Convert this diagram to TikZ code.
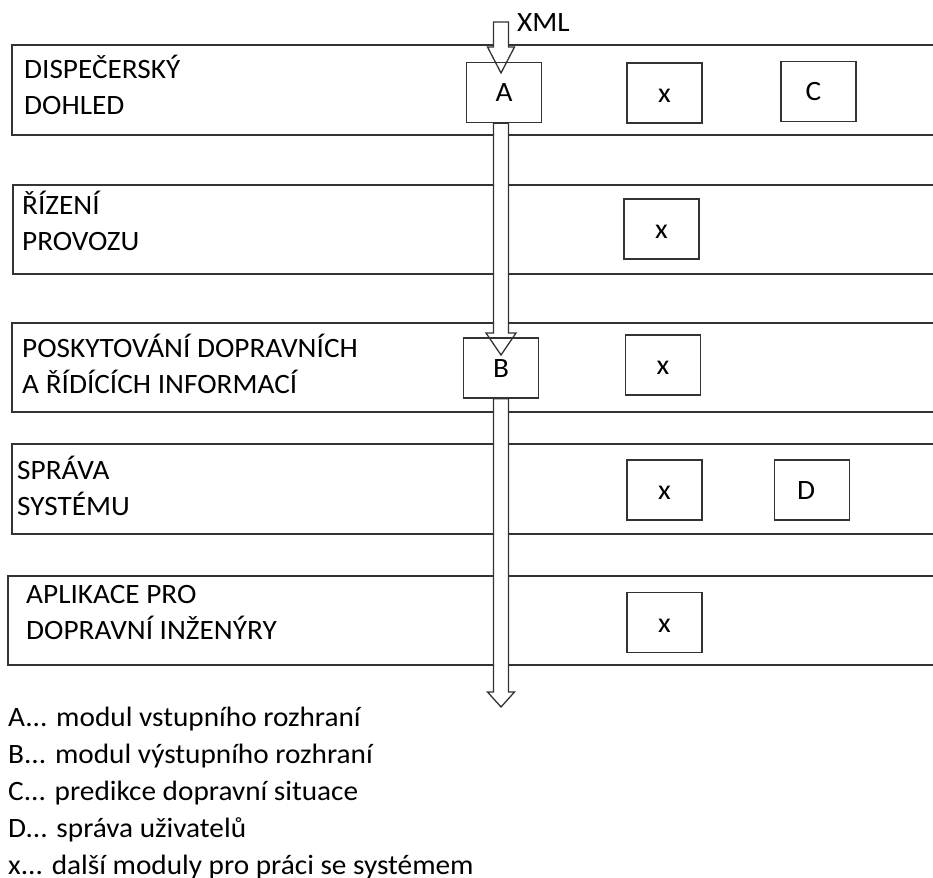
\documentclass[tikz,border=0pt]{standalone}
\usepackage{fontspec}
\setmainfont{Carlito}[FakeStretch=1.045]
\usetikzlibrary{calc}
\pgfdeclarelayer{background}
\pgfsetlayers{background,main}
% hollow block arrow: start point, tip, head length, head half-width
\newcommand\blockarrow[4]{%
  \filldraw[barrow] ($(#1)+(-7.5,0)$) -- ($(#2)+(-7.5,-#3)$) -- ($(#2)+(-#4,-#3)$)
    -- (#2) -- ($(#2)+(#4,-#3)$) -- ($(#2)+(7.5,-#3)$) -- ($(#1)+(7.5,0)$) -- cycle;}
\begin{document}
\begin{tikzpicture}[x=1pt,y=-1pt,
  band/.style={draw=black!80,line width=1.6pt},
  modbox/.style={draw=black!80,line width=1.3pt,minimum width=75pt,minimum height=60pt,
                 inner sep=0pt,text height=19pt,text depth=0pt,font=\fontsize{28}{32}\selectfont},
  lbl/.style={anchor=base west,align=left,inner sep=0pt,font=\fontsize{28}{36}\selectfont},
  barrow/.style={draw=black!80,fill=white,line width=1.3pt,line join=miter}]
\useasboundingbox (0,0) rectangle (933,877);

% layer titles (anchored at the baseline of their last line)
\node[lbl] (l1) at (24,115) {DISPEČERSKÝ\\DOHLED};
\node[lbl] (l2) at (22,251) {ŘÍZENÍ\\PROVOZU};
\node[lbl] (l3) at (22,393) {POSKYTOVÁNÍ DOPRAVNÍCH\\A ŘÍDÍCÍCH INFORMACÍ};
\node[lbl] (l4) at (17,515) {SPRÁVA\\SYSTÉMU};
\node[lbl] (l5) at (26,639) {APLIKACE PRO\\DOPRAVNÍ INŽENÝRY};

% modules
\node[modbox] (A)  at (504,92.5) {A};
\node[modbox] (x1) at (664.5,93) {x};
\node[modbox] (C)  at (818.5,91.5) {C\hspace*{10pt}};
\node[modbox] (x2) at (661.5,229) {x};
\node[modbox] (B)  at (501,368) {B};
\node[modbox] (x3) at (663,365) {x};
\node[modbox] (x4) at (664.5,490) {x};
\node[modbox] (D)  at (812,490) {D\hspace*{12pt}};
\node[modbox] (x5) at (664.5,622.5) {x};

\node[anchor=base west,inner sep=0pt,font=\fontsize{28}{32}\selectfont] (xml) at (517,32) {XML};

% legend
\node[lbl,font=\fontsize{28}{37}\selectfont] (legend) at (8,874)
  {A... modul vstupního rozhraní\\B... modul výstupního rozhraní\\C... predikce dopravní situace\\D... správa uživatelů\\x... další moduly pro práci se systémem};

% data flow points
\coordinate (in)  at (501,22);
\coordinate (t1)  at (501,73);
\coordinate (s2)  at (in |- A.south);
\coordinate (t2)  at (501,355);
\coordinate (s3)  at (in |- B.south);
\coordinate (out) at (501,707);

\begin{pgfonlayer}{background}
  \draw[band] (12,45)  rectangle (945,135);
  \draw[band] (13,185) rectangle (945,274);
  \draw[band] (12,323) rectangle (945,412);
  \draw[band] (12,444) rectangle (945,534);
  \draw[band] (8,576)  rectangle (945,665);
  \blockarrow{in}{t1}{26}{13.5}
  \blockarrow{s2}{t2}{22}{15}
  \blockarrow{s3}{out}{15}{13.5}
\end{pgfonlayer}
\end{tikzpicture}
\end{document}
